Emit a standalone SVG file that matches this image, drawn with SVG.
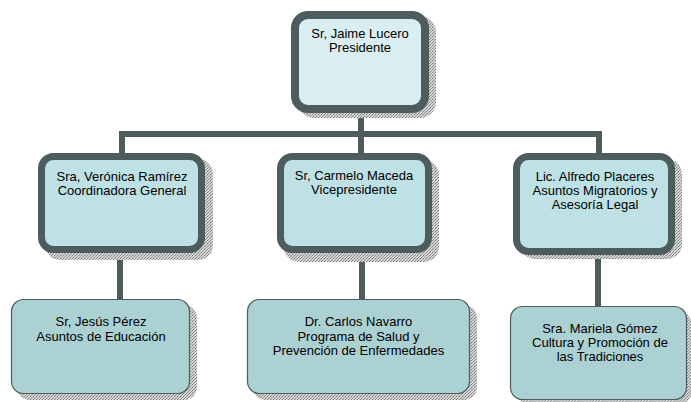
<svg xmlns="http://www.w3.org/2000/svg" width="691" height="402" viewBox="0 0 691 402">
<defs>
<pattern id="stip" width="3" height="3" patternUnits="userSpaceOnUse">
<rect width="3" height="3" fill="#d4d4d4"/>
<rect x="0" y="0" width="1" height="1" fill="#7a7a7a"/>
<rect x="2" y="1" width="1" height="1" fill="#9a9a9a"/>
<rect x="1" y="2" width="1" height="1" fill="#8a8a8a"/>
</pattern>
</defs>
<style>
.shadow{fill:url(#stip);}
.top{fill:#d9eef1;stroke:#4d5c5c;stroke-width:8;}
.mid{fill:#bde1e4;stroke:#4d5c5c;stroke-width:7;}
.low{fill:#acd1d2;stroke:#4d5c5c;stroke-width:1.2;}
.conn{fill:none;stroke:#4d5c5c;stroke-width:6;}
text{font-family:"Liberation Sans",Arial,sans-serif;font-size:13px;fill:#000;text-anchor:middle;}
</style>
<g id="connectors">
<path class="conn" d="M361 113 V134 M122 154 V134 H599 V154 M361 134 V154"/>
<path class="conn" d="M120 253 V299"/>
<path class="conn" d="M362 253 V299"/>
<path class="conn" d="M598 255 V306"/>
</g>
<g id="node-presidente">
<rect class="shadow" x="298" y="16" width="138" height="102" rx="16"/>
<rect class="top" x="295" y="15" width="130" height="94" rx="13"/>
<text x="360" y="38">Sr, Jaime Lucero</text>
<text x="360" y="52">Presidente</text>
</g>
<g id="node-coordinadora">
<rect class="shadow" x="45" y="159" width="168" height="101" rx="15"/>
<rect class="mid" x="41.5" y="156.5" width="160" height="93" rx="12"/>
<text x="122" y="181">Sra, Verónica Ramírez</text>
<text x="122" y="195">Coordinadora General</text>
</g>
<g id="node-vicepresidente">
<rect class="shadow" x="284" y="160" width="155" height="102" rx="15"/>
<rect class="mid" x="280.5" y="156.5" width="148" height="93" rx="12"/>
<text x="354" y="180">Sr, Carmelo Maceda</text>
<text x="354" y="194">Vicepresidente</text>
</g>
<g id="node-asuntos-migratorios">
<rect class="shadow" x="520" y="159" width="162" height="100" rx="15"/>
<rect class="mid" x="516.5" y="156.5" width="155" height="95" rx="12"/>
<text x="595" y="181">Lic. Alfredo Placeres</text>
<text x="595" y="195">Asuntos Migratorios y</text>
<text x="595" y="209">Asesoría Legal</text>
</g>
<g id="node-educacion">
<rect class="shadow" x="17" y="305" width="180" height="95" rx="13"/>
<rect class="low" x="11.5" y="299.5" width="178" height="94" rx="12"/>
<text x="101" y="326">Sr, Jesús Pérez</text>
<text x="101" y="341">Asuntos de Educación</text>
</g>
<g id="node-salud">
<rect class="shadow" x="253" y="305" width="224" height="95" rx="13"/>
<rect class="low" x="247.5" y="299.5" width="222" height="94" rx="12"/>
<text x="358.5" y="326">Dr. Carlos Navarro</text>
<text x="358.5" y="341">Programa de Salud y</text>
<text x="358.5" y="355">Prevención de Enfermedades</text>
</g>
<g id="node-cultura">
<rect class="shadow" x="516" y="312" width="176" height="92" rx="13"/>
<rect class="low" x="510.5" y="306.5" width="176" height="93" rx="12"/>
<text x="600" y="333">Sra. Mariela Gómez</text>
<text x="600" y="347">Cultura y Promoción de</text>
<text x="600" y="361">las Tradiciones</text>
</g>
</svg>
